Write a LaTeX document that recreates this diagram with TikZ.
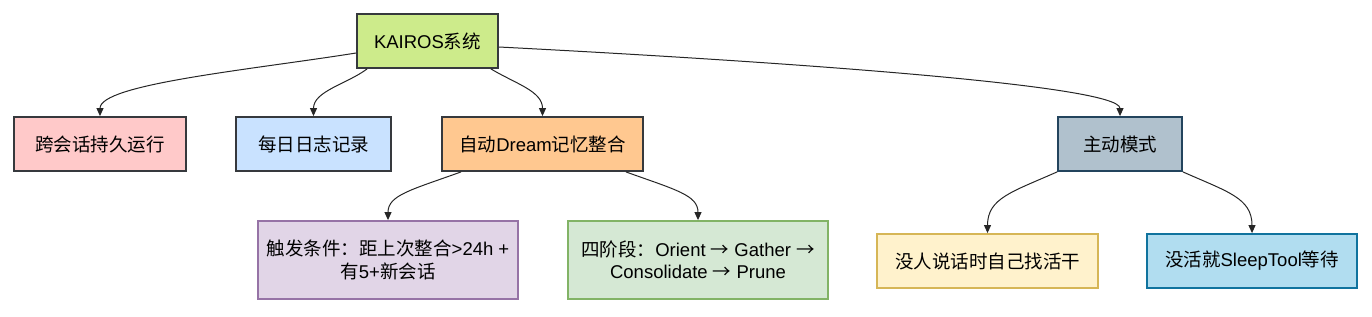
\documentclass[tikz,border=0pt]{standalone}
\usepackage{fontspec}
\setmainfont{Liberation Sans}
\newfontfamily\cjk{Noto Sans CJK SC}
\usetikzlibrary{arrows.meta}
\definecolor{rootfill}{HTML}{CDEB8B}
\definecolor{darkline}{HTML}{36393D}
\definecolor{pinkfill}{HTML}{FFC9C9}
\definecolor{bluefill}{HTML}{C9E2FF}
\definecolor{orangefill}{HTML}{FFC890}
\definecolor{slatefill}{HTML}{B0C1CD}
\definecolor{slateline}{HTML}{23445D}
\definecolor{purplefill}{HTML}{E1D5E7}
\definecolor{purpleline}{HTML}{9673A6}
\definecolor{greenfill}{HTML}{D5E8D4}
\definecolor{greenline}{HTML}{82B366}
\definecolor{yellowfill}{HTML}{FFF2CC}
\definecolor{yellowline}{HTML}{D6B656}
\definecolor{skyfill}{HTML}{B1DDF0}
\definecolor{skyline}{HTML}{10739E}
\newcommand{\rarr}{{\cjk →}}
\tikzset{
  box/.style={draw=darkline, line width=1.8pt, inner sep=0pt, align=center,
    font=\fontsize{18.5pt}{22.5pt}\selectfont, text=black},
  conn/.style={draw=black!85, line width=1pt, -{Triangle[length=8pt,width=7pt]}},
}
\begin{document}
\begin{tikzpicture}[x=1pt,y=-1pt]
\useasboundingbox (0,0) rectangle (1372,316);
\node[box, fill=rootfill, minimum width=141pt, minimum height=54pt] (root) at (427.5,41) {KAIROS{\cjk 系统}};
\node[box, fill=pinkfill, minimum width=172pt, minimum height=54pt] (n1) at (100,144) {{\cjk 跨会话持久运行}};
\node[box, fill=bluefill, minimum width=155pt, minimum height=54pt] (n2) at (313.5,144) {{\cjk 每日日志记录}};
\node[box, fill=orangefill, minimum width=201pt, minimum height=54pt] (n3) at (542.5,144) {{\cjk 自动}Dream{\cjk 记忆整合}};
\node[box, fill=slatefill, draw=slateline, minimum width=124pt, minimum height=54pt] (n4) at (1120,144) {{\cjk 主动模式}};
\node[box, fill=purplefill, draw=purpleline, minimum width=260pt, minimum height=78pt] (n5) at (388,260) {{\cjk 触发条件：距上次整合}>24h +\\{\cjk 有}5+{\cjk 新会话}};
\node[box, fill=greenfill, draw=greenline, minimum width=260pt, minimum height=78pt] (n6) at (698,260) {{\cjk 四阶段：}Orient \rarr{} Gather \rarr\\Consolidate \rarr{} Prune};
\node[box, fill=yellowfill, draw=yellowline, minimum width=221pt, minimum height=54pt] (n7) at (987.5,261) {{\cjk 没人说话时自己找活干}};
\node[box, fill=skyfill, draw=skyline, minimum width=210pt, minimum height=54pt] (n8) at (1252,261) {{\cjk 没活就}SleepTool{\cjk 等待}};
\draw[conn] ([yshift=-12pt]root.west) .. controls +(-107,17) and +(0,-32) .. (n1.north);
\draw[conn] ([xshift=11pt]root.south west) .. controls +(-20,15) and +(0,-25) .. (n2.north);
\draw[conn] ([xshift=-8pt]root.south east) .. controls +(25,15) and +(0,-25) .. (n3.north);
\draw[conn] ([yshift=-6pt]root.east) .. controls +(252,13) and +(0,-32) .. (n4.north);
\draw[conn] ([xshift=20pt]n3.south west) .. controls +(-50,18) and +(0,-25) .. (n5.north);
\draw[conn] ([xshift=-18pt]n3.south east) .. controls +(50,18) and +(0,-25) .. (n6.north);
\draw[conn] (n4.south west) .. controls +(-45,20) and +(0,-35) .. (n7.north);
\draw[conn] (n4.south east) .. controls +(45,20) and +(0,-35) .. (n8.north);
\end{tikzpicture}
\end{document}
